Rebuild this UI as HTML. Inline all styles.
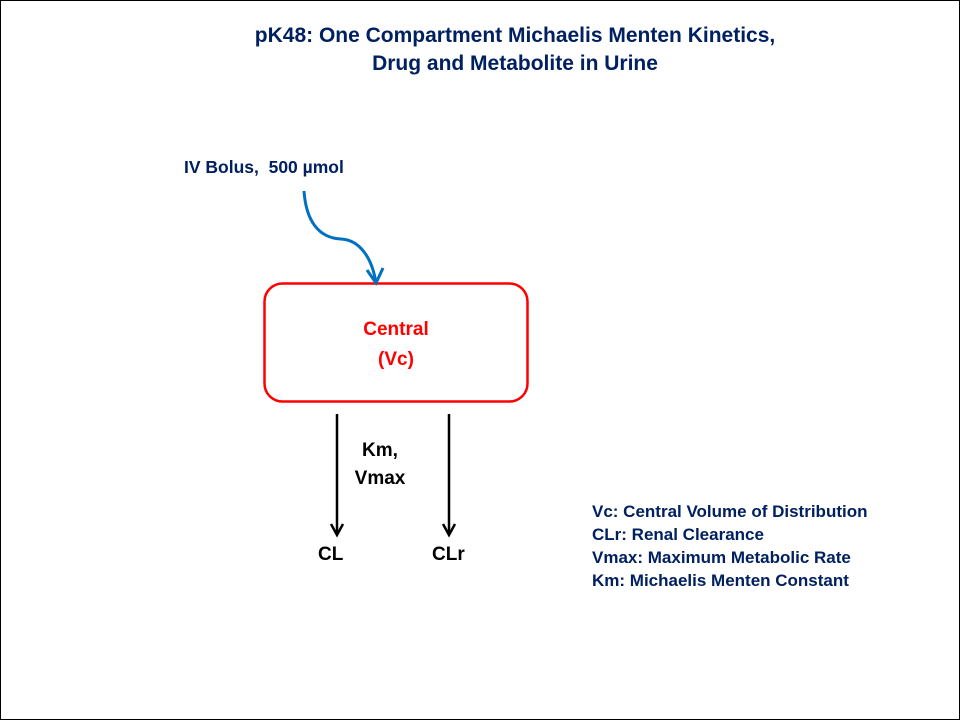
<!DOCTYPE html>
<html><head><meta charset="utf-8"><style>
html,body{margin:0;padding:0;background:#fff}
body{width:960px;height:720px;position:relative;overflow:hidden;font-family:"Liberation Sans",sans-serif;font-weight:bold}
.t{position:absolute;white-space:nowrap}
</style></head><body>
<svg width="960" height="720" style="position:absolute;left:0;top:0">
<rect x="0.5" y="0.5" width="959" height="719" fill="none" stroke="#000" stroke-width="1"/>
<rect x="264.5" y="283.5" width="263" height="118" rx="18" fill="none" stroke="#ff0000" stroke-width="2.5"/>
<path d="M304,191 C306,220 318,238 341,239 C360,240 372,258 376,283" fill="none" stroke="#0070c0" stroke-width="3"/>
<path d="M367,270 L376,283 L383,268" fill="none" stroke="#0070c0" stroke-width="3"/>
<line x1="337" y1="414" x2="337" y2="533" stroke="#000" stroke-width="2.5"/>
<path d="M331,524 L337,535 L343,524" fill="none" stroke="#000" stroke-width="2.5"/>
<line x1="449" y1="414" x2="449" y2="533" stroke="#000" stroke-width="2.5"/>
<path d="M443,524 L449,535 L455,524" fill="none" stroke="#000" stroke-width="2.5"/>
</svg>
<div class="t" style="left:0;width:1030px;top:22px;text-align:center;color:#002060;font-size:21px;line-height:28px">pK48: One Compartment Michaelis Menten Kinetics,<br>Drug and Metabolite in Urine</div>
<div class="t" style="left:184px;top:157px;color:#002060;font-size:17.5px">IV Bolus,&nbsp; 500 µmol</div>
<div class="t" style="left:264px;width:264px;top:315px;text-align:center;color:#ff0000;font-size:19px;line-height:30px">Central<br>(Vc)</div>
<div class="t" style="left:345px;width:70px;top:437px;text-align:center;color:#000;font-size:19px;line-height:28px">Km,<br>Vmax</div>
<div class="t" style="left:318px;top:544px;color:#000;font-size:19px">CL</div>
<div class="t" style="left:432px;top:544px;color:#000;font-size:19px">CLr</div>
<div class="t" style="left:592px;top:500px;color:#002060;font-size:17px;line-height:23px">Vc: Central Volume of Distribution<br>CLr: Renal Clearance<br>Vmax: Maximum Metabolic Rate<br>Km: Michaelis Menten Constant</div>
</body></html>
